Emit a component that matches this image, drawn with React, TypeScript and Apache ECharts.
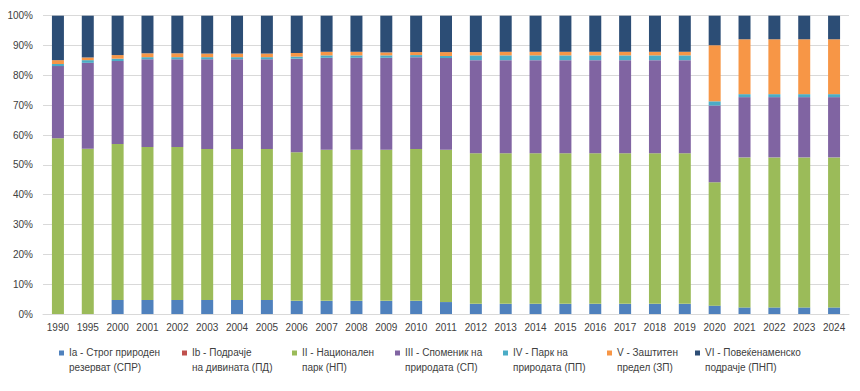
import React, { useEffect, useRef } from "react";
import * as echarts from "echarts";

const years = ["1990","1995","2000","2001","2002","2003","2004","2005","2006","2007","2008","2009","2010","2011","2012","2013","2014","2015","2016","2017","2018","2019","2020","2021","2022","2023","2024"];

const seriesNames = [
  "Ia - Строг природен резерват (СПР)",
  "Ib - Подрачје на дивината (ПД)",
  "II - Национален парк (НП)",
  "III - Споменик на природата (СП)",
  "IV - Парк на природата (ПП)",
  "V - Заштитен предел (ЗП)",
  "VI - Повеќенаменско подрачје (ПНП)",
];

const legendLabels = [
  "Ia - Строг природен\nрезерват (СПР)",
  "Ib - Подрачје\nна дивината (ПД)",
  "II - Национален\nпарк (НП)",
  "III - Споменик на\nприродата (СП)",
  "IV - Парк на\nприродата (ПП)",
  "V - Заштитен\nпредел (ЗП)",
  "VI - Повеќенаменско\nподрачје (ПНП)",
];

const colors = ["#4F81BD", "#C0504D", "#9BBB59", "#8064A2", "#4BACC6", "#F79646", "#2C4D75"];

const ia = [0, 0, 4.7, 4.7, 4.7, 4.7, 4.7, 4.7, 4.4, 4.4, 4.4, 4.4, 4.4, 4.0, 3.4, 3.4, 3.4, 3.4, 3.4, 3.4, 3.4, 3.4, 2.8, 2.2, 2.2, 2.2, 2.2];
const ib = [0, 0, 0, 0, 0, 0, 0, 0, 0, 0, 0, 0, 0, 0, 0, 0, 0, 0, 0, 0, 0, 0, 0, 0, 0, 0, 0];
const ii = [58.9, 55.4, 52.3, 51.3, 51.3, 50.6, 50.6, 50.6, 49.8, 50.7, 50.7, 50.7, 50.9, 51.1, 50.5, 50.5, 50.5, 50.5, 50.5, 50.5, 50.5, 50.5, 41.4, 50.3, 50.3, 50.3, 50.3];
const iii = [24.2, 28.8, 27.8, 29.4, 29.4, 30.1, 30.1, 30.1, 31.4, 30.8, 30.8, 30.8, 30.8, 30.7, 31.2, 31.2, 31.2, 31.2, 31.2, 31.2, 31.2, 31.2, 25.7, 20.2, 20.2, 20.2, 20.2];
const iv = [0.7, 0.9, 0.8, 0.7, 0.7, 0.7, 0.7, 0.7, 0.7, 0.8, 0.8, 0.8, 0.7, 0.7, 1.6, 1.6, 1.6, 1.6, 1.6, 1.6, 1.6, 1.6, 1.4, 1.0, 1.0, 1.0, 1.0];
const v = [1.3, 0.9, 1.2, 1.3, 1.3, 1.2, 1.2, 1.2, 1.2, 1.2, 1.2, 1.0, 1.0, 1.3, 1.1, 1.2, 1.2, 1.2, 1.2, 1.2, 1.2, 1.2, 18.8, 18.4, 18.4, 18.4, 18.4];
const vi = [14.9, 14.0, 13.2, 12.7, 12.7, 12.7, 12.7, 12.7, 12.5, 12.1, 12.1, 12.3, 12.2, 12.2, 12.2, 12.1, 12.1, 12.1, 12.1, 12.1, 12.1, 12.1, 9.9, 7.9, 7.9, 7.9, 7.9];

const yTicks = [0, 10, 20, 30, 40, 50, 60, 70, 80, 90, 100];

const legendLeft = [59, 182, 292, 395, 503, 607, 695];

const FONT = "Liberation Sans";

export default function App() {
  const ref = useRef<HTMLDivElement>(null);
  useEffect(() => {
    if (!ref.current) return;
    document.body.style.margin = "0";
    const chart = echarts.init(ref.current, null, { renderer: "svg" });
    const data = [ia, ib, ii, iii, iv, v, vi];
    const iconPath = "path://M0,0 L5,0 L5,5 L0,5 Z M0,19 L0.01,19";
    chart.setOption({
      animation: false,
      color: colors,
      grid: { left: 43, right: 11, top: 15.7, bottom: 77, containLabel: false },
      xAxis: {
        type: "category",
        data: years,
        axisLine: { show: true, lineStyle: { color: "#D9D9D9" } },
        axisTick: { show: false },
        axisLabel: { color: "#404040", fontFamily: FONT, fontSize: 10, margin: 8, interval: 0 },
      },
      yAxis: {
        type: "value",
        min: yTicks[0],
        max: yTicks[yTicks.length - 1],
        interval: 10,
        axisLine: { show: false },
        axisTick: { show: false },
        splitLine: { lineStyle: { color: "#D9D9D9" } },
        axisLabel: { color: "#404040", fontFamily: FONT, fontSize: 10, margin: 10, formatter: "{value}%" },
      },
      legend: seriesNames.map((name, i) => ({
        data: [name],
        left: legendLeft[i],
        top: 345,
        icon: iconPath,
        itemWidth: 5,
        itemHeight: 19,
        padding: 0,
        selectedMode: false,
        formatter: () => legendLabels[i],
        textStyle: { color: "#404040", fontFamily: FONT, fontSize: 10, lineHeight: 15 },
      })),
      series: seriesNames.map((name, i) => ({
        name,
        type: "bar",
        stack: "total",
        barWidth: 12,
        data: data[i],
        itemStyle: { color: colors[i] },
      })),
    });
    return () => chart.dispose();
  }, []);
  return <div ref={ref} style={{ width: 860, height: 391 }} />;
}
